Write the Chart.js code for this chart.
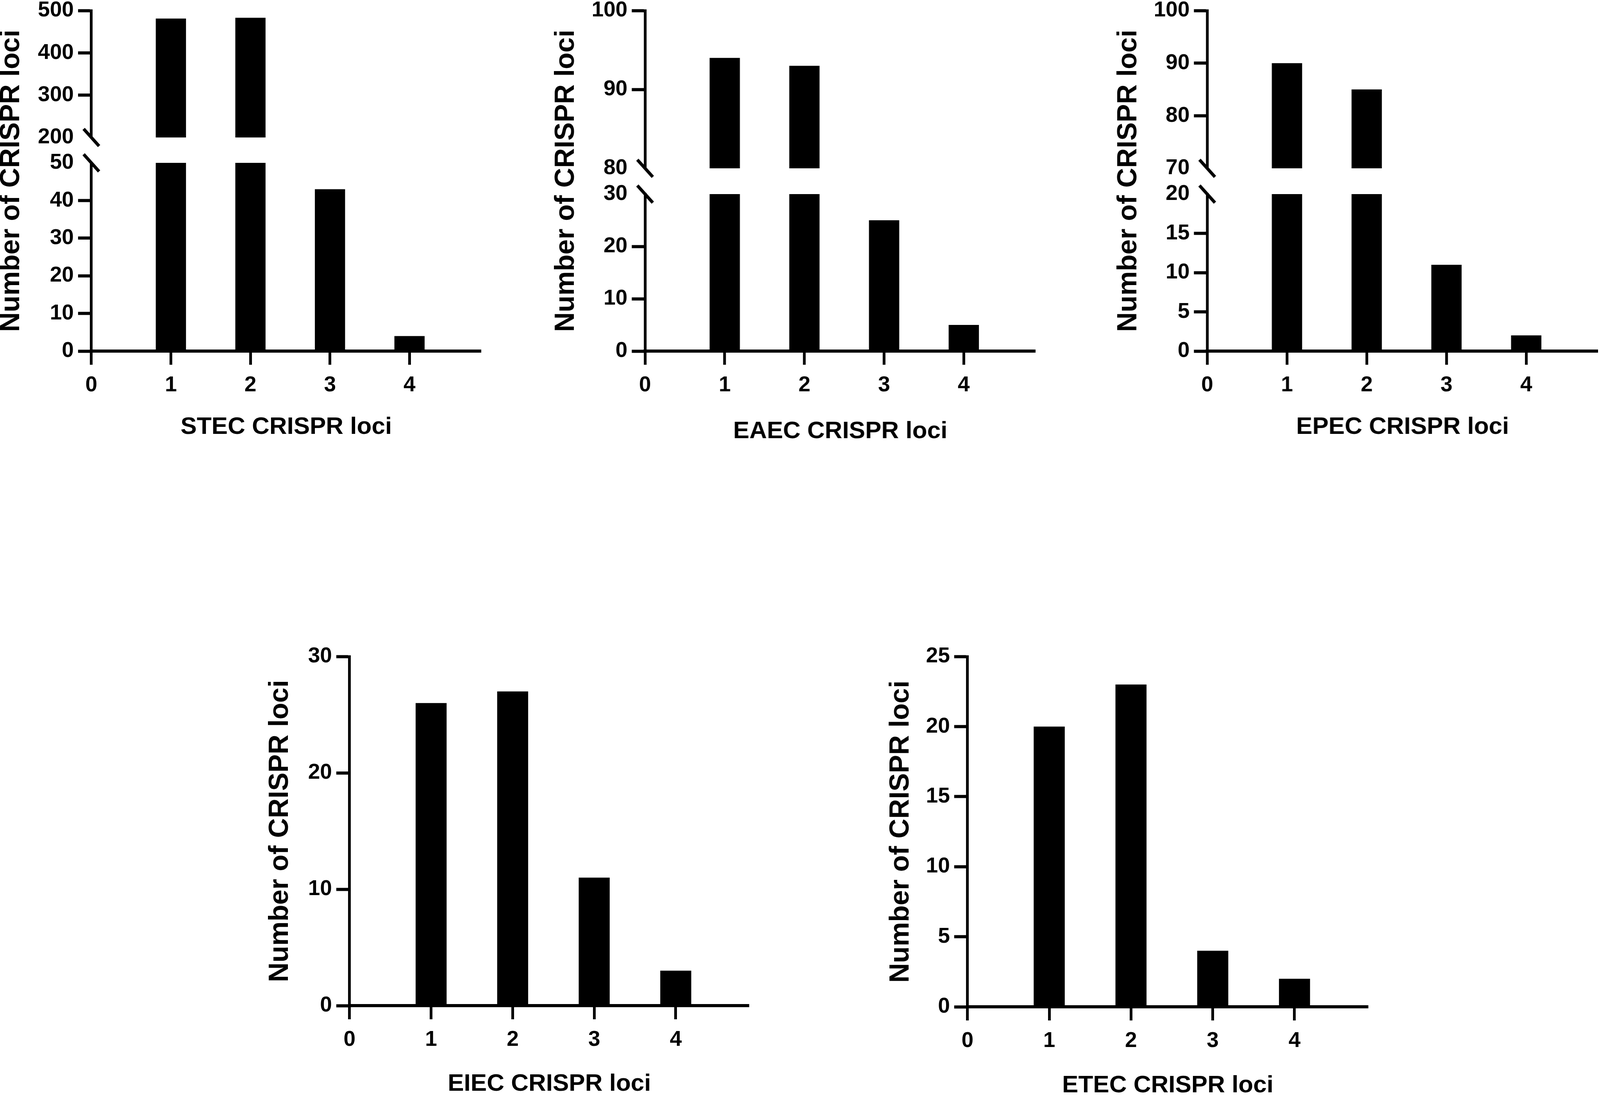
<!DOCTYPE html>
<html>
<head>
<meta charset="utf-8">
<title>CRISPR loci per pathotype</title>
<script src="https://cdn.jsdelivr.net/npm/chart.js"></script>
<style>
  html, body { margin: 0; padding: 0; background: #fff; overflow: hidden; }
  body { width: 100vw; height: 100vh; position: relative; }
  .panel { position: absolute; }
  .panel canvas { display: block; }
</style>
</head>
<body>
<div class="panel" id="stec"><canvas></canvas></div>
<div class="panel" id="eaec"><canvas></canvas></div>
<div class="panel" id="epec"><canvas></canvas></div>
<div class="panel" id="eiec"><canvas></canvas></div>
<div class="panel" id="etec"><canvas></canvas></div>
<script>
// categories on the x axis (number of CRISPR loci per genome)
const lociCounts = [1, 2, 3, 4];
const xTickValues = [0, 1, 2, 3, 4];
const xMax = 4.9;

// number of genomes per category
const stecValues = [481, 483, 43, 4];
const eaecValues = [94, 93, 25, 5];
const epecValues = [90, 85, 11, 2];
const eiecValues = [26, 27, 11, 3];
const etecValues = [20, 23, 4, 2];

// y tick labels; broken axes have an upper and a lower segment
const stecHighTicks = [200, 300, 400, 500];
const stecLowTicks = [0, 10, 20, 30, 40, 50];
const eaecHighTicks = [80, 90, 100];
const eaecLowTicks = [0, 10, 20, 30];
const epecHighTicks = [70, 80, 90, 100];
const epecLowTicks = [0, 5, 10, 15, 20];
const eiecTicks = [0, 10, 20, 30];
const etecTicks = [0, 5, 10, 15, 20, 25];

const yAxisTitle = 'Number of CRISPR loci';

// layout measured on the 4561 px wide figure; x gets scaled to the real viewport
const panels = [
  { id: 'stec', values: stecValues, xTitle: 'STEC CRISPR loci', segments: [stecHighTicks, stecLowTicks],
    box: { yTitleX: 33, axisX: 260, axisRight: 1371, top: 27, bottom: 899, xTitleY: 1094, heights: [325, 65, 482] } },
  { id: 'eaec', values: eaecValues, xTitle: 'EAEC CRISPR loci', segments: [eaecHighTicks, eaecLowTicks],
    box: { yTitleX: 1615, axisX: 1839, axisRight: 2951, top: 27, bottom: 899, xTitleY: 1105, heights: [404, 66, 402] } },
  { id: 'epec', values: epecValues, xTitle: 'EPEC CRISPR loci', segments: [epecHighTicks, epecLowTicks],
    box: { yTitleX: 3218, axisX: 3441, axisRight: 4554, top: 27, bottom: 899, xTitleY: 1094, heights: [404, 66, 402] } },
  { id: 'eiec', values: eiecValues, xTitle: 'EIEC CRISPR loci', segments: [eiecTicks],
    box: { yTitleX: 799, axisX: 996, axisRight: 2135, top: 1681, bottom: 2575, xTitleY: 2776, heights: [1] } },
  { id: 'etec', values: etecValues, xTitle: 'ETEC CRISPR loci', segments: [etecTicks],
    box: { yTitleX: 2569, axisX: 2758, axisRight: 3900, top: 1681, bottom: 2578, xTitleY: 2780, heights: [1] } }
];

const SX = Math.min(1, window.innerWidth / 4561);

Chart.defaults.font.family = "'Liberation Sans', Arial, Helvetica, sans-serif";
Chart.defaults.color = '#000';

const TICK_FONT = { size: 55, weight: 'bold' };
const X_TITLE_FONT = { size: 62, weight: 'bold', lineHeight: 1.2 };
const Y_TITLE_FONT = { size: 70, weight: 'bold', lineHeight: 1.2 };
const H_LINE = 8;                       // horizontal strokes
const V_LINE = Math.round(8 * SX);      // vertical strokes
const PAD_TOP = 60;
const PAD_RIGHT = 6;

// keep each dataset inside the band of its own y segment
const segmentClip = {
  id: 'segmentClip',
  beforeDatasetDraw(chart, args) {
    const { ctx, chartArea } = chart;
    const ys = args.meta.yScale;
    ctx.save();
    ctx.beginPath();
    ctx.rect(chartArea.left, ys.top, chartArea.right - chartArea.left, ys.bottom - ys.top);
    ctx.clip();
  },
  afterDatasetDraw(chart) {
    chart.ctx.restore();
  }
};

// the two slashes where the y axis is broken
const axisBreak = {
  id: 'axisBreak',
  afterDraw(chart) {
    const ids = Object.keys(chart.scales).filter(id => /^y\d+$/.test(id)).sort();
    if (ids.length < 2) return;
    const ctx = chart.ctx;
    const x = chart.chartArea.left;
    const dx = 22 * SX, dy = 22;
    ctx.save();
    ctx.strokeStyle = '#000';
    ctx.lineWidth = H_LINE;
    ctx.lineCap = 'butt';
    for (let k = 0; k + 1 < ids.length; k++) {
      [chart.scales[ids[k]].bottom, chart.scales[ids[k + 1]].top].forEach(y => {
        ctx.beginPath();
        ctx.moveTo(x - dx, y - dy);
        ctx.lineTo(x + dx, y + dy);
        ctx.stroke();
      });
    }
    ctx.restore();
  }
};

function makePanel(p) {
  const b = p.box;
  const yTitleLH = Y_TITLE_FONT.size * Y_TITLE_FONT.lineHeight;
  const xTitleLH = X_TITLE_FONT.size * X_TITLE_FONT.lineHeight;
  const tickLH = TICK_FONT.size * 1.2;
  const axisX = b.axisX * SX;
  const left = b.yTitleX * SX - yTitleLH / 2;
  const top = b.top - PAD_TOP;
  const right = b.axisRight * SX + PAD_RIGHT;
  const bottom = b.xTitleY + xTitleLH / 2;
  const el = document.getElementById(p.id);
  el.style.left = left + 'px';
  el.style.top = top + 'px';
  el.style.width = (right - left) + 'px';
  el.style.height = (bottom - top) + 'px';

  const valueAxisWidth = axisX - left - yTitleLH;
  const broken = p.segments.length > 1;

  const scales = {
    x: {
      type: 'linear', position: 'bottom', min: 0, max: xMax, offset: false,
      afterBuildTicks: s => { s.ticks = xTickValues.map(v => ({ value: v })); },
      afterFit: s => { s.height = bottom - b.bottom; },
      ticks: { autoSkip: false, maxRotation: 0, font: TICK_FONT, color: '#000',
               padding: Math.round(88 - 35 - tickLH / 2) },
      grid: { display: true, offset: false, drawOnChartArea: false, drawTicks: true,
              tickLength: 35, tickWidth: V_LINE, tickColor: '#000' },
      border: { display: true, color: '#000', width: H_LINE },
      title: { display: true, text: p.xTitle, font: X_TITLE_FONT, color: '#000', padding: 0 }
    },
    yTitle: {
      type: 'linear', position: 'left', weight: 100, min: 0, max: 1, display: true,
      ticks: { display: false },
      grid: { display: false, drawTicks: false },
      border: { display: false },
      title: { display: true, text: yAxisTitle, font: Y_TITLE_FONT, color: '#000', padding: 0 },
      afterFit: s => { s.width = yTitleLH; }
    }
  };

  const datasets = [];
  p.segments.forEach((ticks, k) => {
    const id = 'y' + k;
    const lo = ticks[0];
    const hi = ticks[ticks.length - 1];
    const hidden = [];
    if (broken && k > 0) hidden.push(hi);
    if (broken && k < p.segments.length - 1) hidden.push(lo);
    scales[id] = {
      type: 'linear', position: 'left', stack: 'value', stackWeight: b.heights[k * 2],
      weight: 50 - 2 * k, min: lo, max: hi,
      afterBuildTicks: s => { s.ticks = ticks.map(v => ({ value: v })); },
      afterFit: s => { s.width = valueAxisWidth; },
      ticks: { autoSkip: false, font: TICK_FONT, color: '#000', padding: Math.round(12 * SX) },
      grid: {
        display: true, drawOnChartArea: false, drawTicks: true, tickLength: Math.round(38 * SX),
        tickWidth: H_LINE,
        tickColor: c => (c.tick && hidden.includes(c.tick.value)) ? 'rgba(0,0,0,0)' : '#000'
      },
      border: { display: true, color: '#000', width: V_LINE }
    };
    if (k < p.segments.length - 1) {
      scales['gap' + k] = {
        type: 'linear', position: 'left', stack: 'value', stackWeight: b.heights[k * 2 + 1],
        weight: 49 - 2 * k, display: true, min: 0, max: 1,
        ticks: { display: false },
        grid: { display: false, drawTicks: false },
        border: { display: false },
        afterFit: s => { s.width = valueAxisWidth; }
      };
    }
    datasets.push({
      data: lociCounts.map((x, i) => ({ x: x, y: p.values[i] })),
      yAxisID: id,
      backgroundColor: '#000',
      borderWidth: 0,
      grouped: false,
      barPercentage: 0.38,
      categoryPercentage: 1
    });
  });

  new Chart(el.querySelector('canvas'), {
    type: 'bar',
    data: { datasets: datasets },
    options: {
      responsive: true,
      maintainAspectRatio: false,
      animation: false,
      layout: { padding: { top: PAD_TOP, right: PAD_RIGHT, left: 0, bottom: 0 } },
      scales: scales,
      plugins: {
        legend: { display: false },
        tooltip: { enabled: false }
      }
    },
    plugins: [segmentClip, axisBreak]
  });
}

panels.forEach(makePanel);
</script>
</body>
</html>
